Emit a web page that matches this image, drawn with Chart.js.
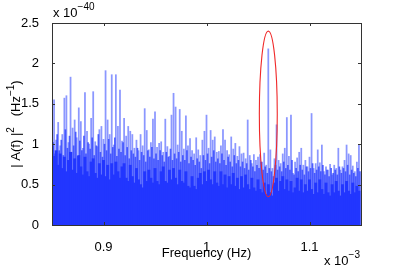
<!DOCTYPE html>
<html>
<head>
<meta charset="utf-8">
<script src="https://cdn.jsdelivr.net/npm/chart.js@4.4.0/dist/chart.umd.min.js"></script>
<style>
  html, body { margin: 0; padding: 0; background: #fff; }
  #wrap { width: 399px; height: 266px; }
</style>
</head>
<body>
<div id="wrap"><canvas id="spectrum" width="399" height="266"></canvas></div>
<script>
// frequency axis in units of 1e-3 Hz, amplitude in units of 1e-40 Hz^-1
const freqStart = 0.85;
const freqStep = 0.002;

// tallest line reached in each frequency bin
const peakValues = [
  1.10, 1.55, 1.05, 1.27, 0.98, 1.12, 1.57, 1.60, 1.02, 1.83,
  1.20, 1.30, 1.08, 1.45, 1.28, 0.95, 1.64, 1.16, 1.00, 1.32,
  1.65, 1.03, 0.97, 1.18, 1.22, 1.06, 1.91, 1.30, 1.12, 1.86,
  0.99, 1.86, 1.22, 1.67, 1.04, 1.32, 1.10, 1.22, 1.16, 1.12,
  0.95, 1.05, 0.92, 1.12, 0.98, 1.44, 1.17, 0.93, 1.02, 1.31,
  1.40, 0.96, 1.01, 1.03, 0.90, 1.31, 0.97, 0.85, 1.36, 1.63,
  1.46, 0.99, 1.43, 1.16, 0.94, 1.35, 0.98, 1.07, 0.92, 0.88,
  1.08, 0.93, 0.86, 1.05, 1.16, 1.36, 0.95, 1.17, 1.05, 1.09,
  0.90, 0.91, 0.98, 1.18, 1.05, 0.92, 0.87, 1.09, 0.94, 1.01,
  0.85, 0.97, 0.88, 0.89, 0.82, 1.30, 0.86, 0.76, 0.87, 0.80,
  0.84, 0.87, 0.78, 0.89, 0.74, 2.18, 0.93, 0.70, 0.82, 1.24,
  0.80, 0.76, 0.88, 0.95, 1.33, 0.85, 1.36, 0.64, 0.78, 0.83,
  0.90, 0.95, 0.74, 0.80, 0.72, 0.84, 1.38, 0.70, 0.76, 0.93,
  0.77, 0.99, 0.66, 0.72, 0.68, 0.75, 0.62, 0.74, 0.70, 0.95,
  0.68, 0.72, 0.80, 0.99, 0.88, 0.86, 0.73, 0.66, 0.78, 0.99
];

// lines sitting between the bins, mid height
const midValues = [
  1.02, 0.88, 1.12, 0.92, 1.05, 0.86, 1.18, 0.95, 1.10, 0.90,
  0.98, 1.15, 0.85, 1.04, 0.92, 1.10, 0.88, 1.02, 0.94, 1.08,
  0.86, 0.98, 1.12, 0.90, 0.84, 1.00, 0.92, 1.06, 0.88, 0.96,
  1.08, 0.85, 0.94, 0.90, 1.02, 0.86, 0.96, 0.82, 0.92, 0.88,
  0.84, 0.95, 0.80, 0.90, 0.86, 0.78, 0.92, 0.84, 0.96, 0.82,
  0.88, 0.80, 0.92, 0.86, 0.78, 0.90, 0.84, 0.94, 0.80, 0.88,
  0.82, 0.90, 0.78, 0.86, 0.80, 0.92, 0.76, 0.84, 0.80, 0.74,
  0.82, 0.78, 0.70, 0.86, 0.80, 0.88, 0.76, 0.84, 0.92, 0.78,
  0.82, 0.76, 0.88, 0.80, 0.74, 0.84, 0.78, 0.72, 0.86, 0.76,
  0.80, 0.72, 0.78, 0.70, 0.76, 0.68, 0.80, 0.72, 0.66, 0.74,
  0.70, 0.78, 0.68, 0.72, 0.64, 0.70, 0.66, 0.60, 0.74, 0.68,
  0.72, 0.66, 0.78, 0.70, 0.74, 0.68, 0.80, 0.62, 0.70, 0.66,
  0.74, 0.68, 0.62, 0.72, 0.66, 0.70, 0.76, 0.64, 0.68, 0.72,
  0.66, 0.74, 0.62, 0.68, 0.60, 0.70, 0.64, 0.68, 0.62, 0.72,
  0.64, 0.70, 0.66, 0.74, 0.62, 0.68, 0.64, 0.60, 0.70, 0.66
];

// height below which the lines fill solid
const coreValues = [
  0.98, 0.85, 0.92, 0.74, 0.88, 0.70, 0.84, 0.66, 0.80, 0.90,
  0.68, 0.82, 0.64, 0.86, 0.72, 0.62, 0.84, 0.66, 0.60, 0.78,
  0.82, 0.64, 0.58, 0.76, 0.62, 0.80, 0.60, 0.74, 0.56, 0.76,
  0.62, 0.78, 0.66, 0.58, 0.72, 0.76, 0.58, 0.54, 0.74, 0.60,
  0.52, 0.70, 0.56, 0.50, 0.46, 0.66, 0.54, 0.68, 0.58, 0.52,
  0.70, 0.54, 0.50, 0.66, 0.72, 0.54, 0.52, 0.68, 0.56, 0.70,
  0.58, 0.50, 0.68, 0.54, 0.52, 0.66, 0.48, 0.46, 0.60, 0.48,
  0.44, 0.58, 0.64, 0.50, 0.66, 0.54, 0.68, 0.56, 0.50, 0.66,
  0.52, 0.48, 0.66, 0.50, 0.62, 0.46, 0.60, 0.50, 0.64, 0.48,
  0.58, 0.44, 0.60, 0.46, 0.62, 0.50, 0.44, 0.58, 0.46, 0.42,
  0.56, 0.44, 0.40, 0.52, 0.38, 0.50, 0.40, 0.36, 0.52, 0.58,
  0.42, 0.54, 0.60, 0.44, 0.56, 0.42, 0.54, 0.40, 0.46, 0.58,
  0.42, 0.56, 0.40, 0.50, 0.42, 0.56, 0.44, 0.38, 0.52, 0.40,
  0.56, 0.44, 0.38, 0.52, 0.40, 0.36, 0.50, 0.40, 0.54, 0.42,
  0.36, 0.50, 0.40, 0.54, 0.42, 0.38, 0.52, 0.40, 0.48, 0.42
];

const xTicks = [0.9, 1, 1.1];
const yTicks = [0, 0.5, 1, 1.5, 2, 2.5];

// red ring around the line at 1.06e-3 Hz (data units)
const ringCenter = [1.06, 1.375];
const ringRadius = [0.0087, 1.025];

const FONT = '"Liberation Sans", Arial, Helvetica, sans-serif';
const AXIS_COLOR = '#333';

function toPoints(values, shift) {
  return values.map((v, i) => ({ x: freqStart + i * freqStep + shift, y: v }));
}

function drawPieces(ctx, pieces, x, y) {
  // pieces: [text, size, rise]
  pieces.forEach(([t, size, rise]) => {
    ctx.font = size + 'px ' + FONT;
    ctx.fillText(t, x, y - rise);
    x += ctx.measureText(t).width;
  });
}

function piecesWidth(ctx, pieces) {
  let w = 0;
  pieces.forEach(([t, size]) => {
    ctx.font = size + 'px ' + FONT;
    w += ctx.measureText(t).width;
  });
  return w;
}

const framePlugin = {
  id: 'frame',
  afterDatasetsDraw(chart) {
    const { ctx, chartArea: a, scales } = chart;
    const xs = scales.x, ys = scales.y;

    // ring
    ctx.save();
    const cx = xs.getPixelForValue(ringCenter[0]);
    const cy = ys.getPixelForValue(ringCenter[1]);
    const rx = Math.abs(xs.getPixelForValue(ringCenter[0] + ringRadius[0]) - cx);
    const ry = Math.abs(ys.getPixelForValue(ringCenter[1] + ringRadius[1]) - cy);
    ctx.strokeStyle = '#f02828';
    ctx.lineWidth = 1.1;
    ctx.beginPath();
    ctx.ellipse(cx, cy, rx, ry, 0, 0, Math.PI * 2);
    ctx.stroke();
    ctx.restore();

    // box and inward ticks
    ctx.save();
    ctx.strokeStyle = AXIS_COLOR;
    ctx.lineWidth = 1;
    ctx.strokeRect(Math.round(a.left) + 0.5, Math.round(a.top) + 0.5,
      Math.round(a.right - a.left), Math.round(a.bottom - a.top));
    ctx.beginPath();
    xTicks.forEach(v => {
      const px = Math.round(xs.getPixelForValue(v)) + 0.5;
      ctx.moveTo(px, a.bottom); ctx.lineTo(px, a.bottom - 3);
      ctx.moveTo(px, a.top); ctx.lineTo(px, a.top + 3);
    });
    yTicks.forEach(v => {
      const py = Math.round(ys.getPixelForValue(v)) + 0.5;
      ctx.moveTo(a.left, py); ctx.lineTo(a.left + 3, py);
      ctx.moveTo(a.right, py); ctx.lineTo(a.right - 3, py);
    });
    ctx.stroke();
    ctx.restore();
  },
  afterDraw(chart) {
    const { ctx, chartArea: a } = chart;
    ctx.save();
    ctx.fillStyle = '#000';
    ctx.textBaseline = 'alphabetic';

    // exponent labels
    drawPieces(ctx, [['x 10', 13, 0], ['\u221240', 10, 7]], a.left + 1, 17);
    drawPieces(ctx, [['x 10', 13, 0], ['\u22123', 10, 7]], 324, 265);

    // x title
    ctx.font = '13px ' + FONT;
    ctx.textAlign = 'center';
    ctx.fillText('Frequency (Hz)', (a.left + a.right) / 2, 257);
    ctx.textAlign = 'left';

    // y title
    const yt = [['| A(f) |', 13, 0], ['2', 10, 6], ['   (Hz', 13, 0], ['\u22121', 10, 6], [')', 13, 0]];
    const w = piecesWidth(ctx, yt);
    ctx.translate(20, 124);
    ctx.rotate(-Math.PI / 2);
    drawPieces(ctx, yt, -w / 2, 0);
    ctx.restore();
  }
};

new Chart(document.getElementById('spectrum'), {
  type: 'bar',
  data: {
    datasets: [
      {
        label: 'core',
        data: toPoints(coreValues, 0),
        backgroundColor: '#2236ff',
        barThickness: 2.3,
        grouped: false,
        borderWidth: 0
      },
      {
        label: 'mid',
        data: toPoints(midValues, freqStep / 2),
        backgroundColor: 'rgba(40,60,255,0.78)',
        barThickness: 1,
        grouped: false,
        borderWidth: 0
      },
      {
        label: 'peaks',
        data: toPoints(peakValues, 0),
        backgroundColor: 'rgba(55,75,255,0.58)',
        barThickness: 1.1,
        grouped: false,
        borderWidth: 0
      }
    ]
  },
  options: {
    responsive: false,
    animation: false,
    layout: { padding: { top: 23, right: 38, left: 0, bottom: 0 } },
    plugins: { legend: { display: false }, tooltip: { enabled: false } },
    scales: {
      x: {
        type: 'linear',
        min: 0.85,
        max: 1.15,
        offset: false,
        grid: { display: false },
        border: { display: false },
        afterBuildTicks(scale) { scale.ticks = xTicks.map(v => ({ value: v })); },
        afterFit(scale) { scale.height = 41; },
        ticks: {
          color: '#000',
          padding: 7,
          maxRotation: 0,
          font: { family: FONT, size: 13 },
          callback: v => String(v)
        }
      },
      y: {
        min: 0,
        max: 2.5,
        grid: { display: false },
        border: { display: false },
        afterBuildTicks(scale) { scale.ticks = yTicks.map(v => ({ value: v })); },
        afterFit(scale) { scale.width = 52; },
        ticks: {
          color: '#000',
          padding: 5,
          font: { family: FONT, size: 13 },
          callback: v => String(v)
        }
      }
    }
  },
  plugins: [framePlugin]
});
</script>
</body>
</html>
